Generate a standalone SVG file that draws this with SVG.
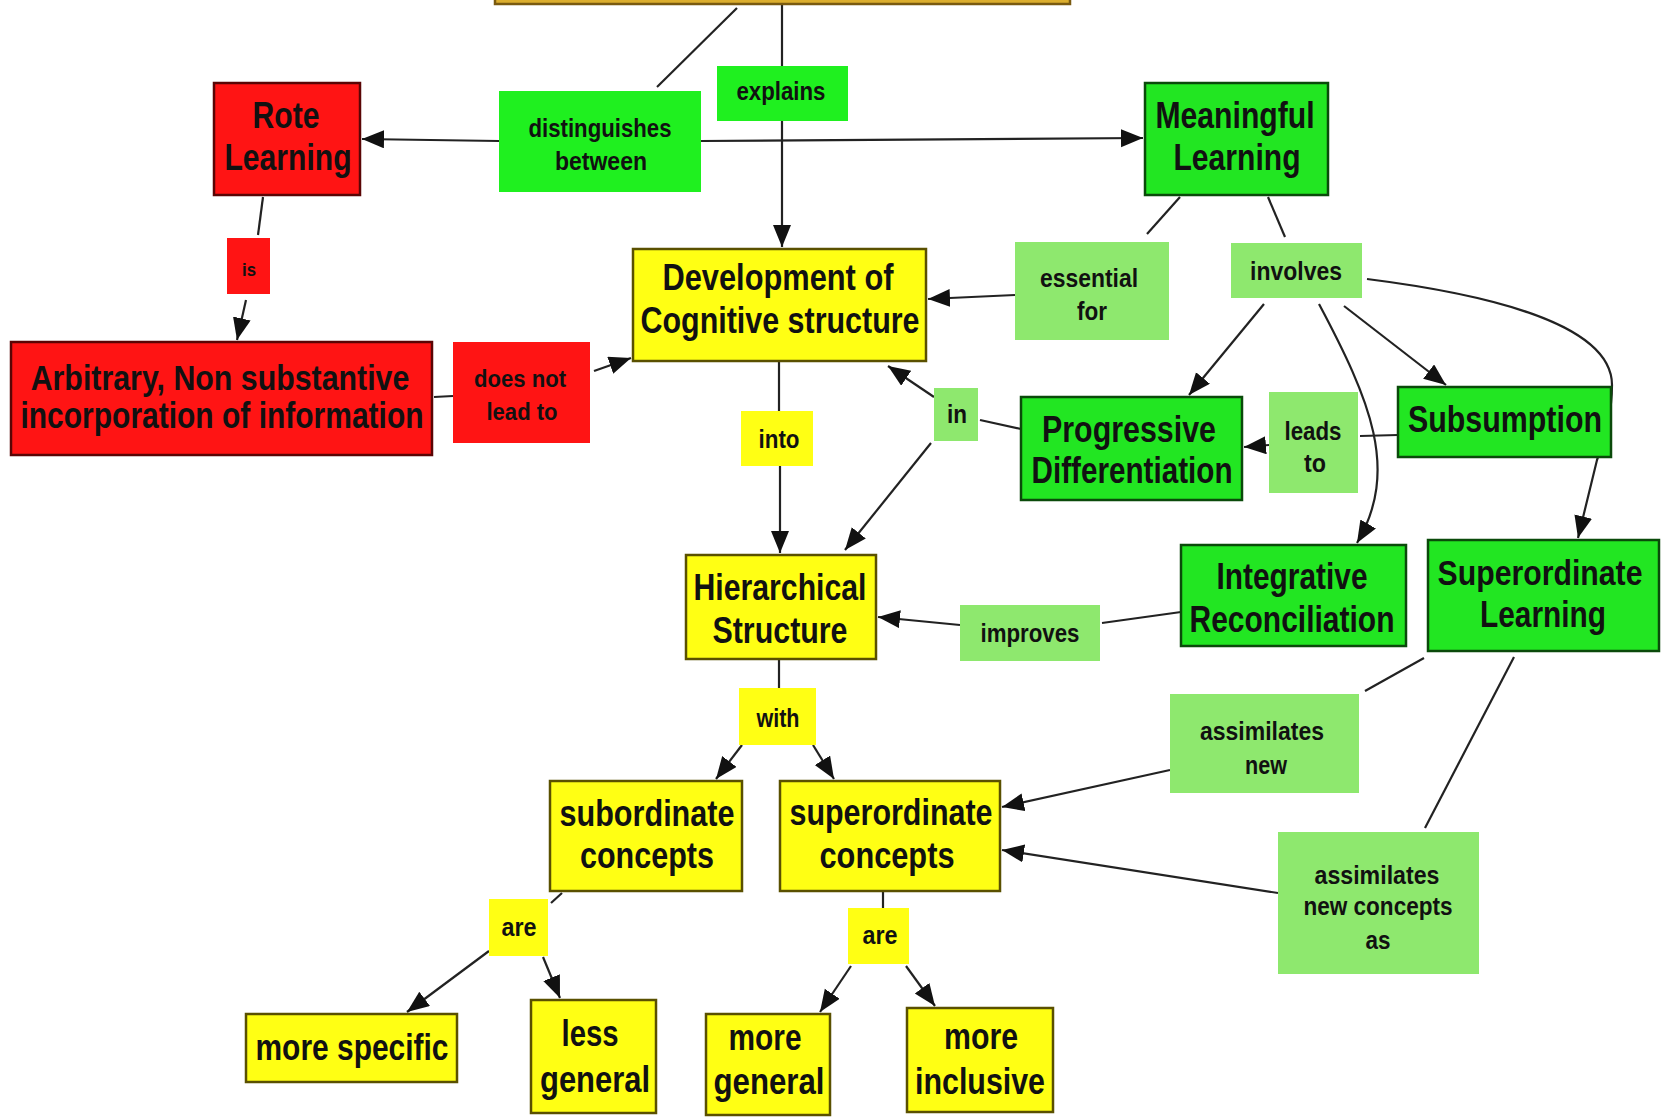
<svg xmlns="http://www.w3.org/2000/svg" width="1662" height="1117" viewBox="0 0 1662 1117">
<style>
.bg{fill:#ffffff}
.red{fill:#ff1414}
.redb{fill:#ff1414;stroke:#5a0505;stroke-width:2.5}
.grn{fill:#1ff01f}
.grnb{fill:#22e622;stroke:#0a4a0a;stroke-width:2.5}
.lg{fill:#8ee86e}
.yel{fill:#ffff14}
.yelb{fill:#ffff14;stroke:#5a5000;stroke-width:2.5}
.top{fill:#dcae2e;stroke:#7a5a10;stroke-width:2.5}
text{font-family:"Liberation Sans",Arial,sans-serif;font-weight:bold;fill:#111;text-anchor:middle}
.c{font-size:36px}
.l{font-size:25px}
.e{fill:none;stroke:#222;stroke-width:2.2}
.a{marker-end:url(#ah)}
</style>
<defs>
<marker id="ah" markerUnits="userSpaceOnUse" markerWidth="24" markerHeight="20" refX="22" refY="9" orient="auto" viewBox="0 0 24 20">
<path d="M0,0 L22,9 L0,18 z" fill="#111"/>
</marker>
</defs>
<rect class="bg" x="0" y="0" width="1662" height="1117"/>
<g id="connectors">
<path class="e" d="M737,8 L657,87"/>
<path class="e" d="M782,4 L782,66"/>
<path class="e a" d="M782,121 L782,247"/>
<path class="e a" d="M499,141 L362,139"/>
<path class="e a" d="M701,141 L1143,138"/>
<path class="e" d="M263,197 L258,235"/>
<path class="e a" d="M246,300 L237,340"/>
<path class="e" d="M434,397 L453,396"/>
<path class="e a" d="M594,371 L631,358"/>
<path class="e" d="M1180,197 L1147,234"/>
<path class="e a" d="M1015,295 L928,299"/>
<path class="e" d="M1268,197 L1285,237"/>
<path class="e a" d="M1264,304 L1189,395"/>
<path class="e a" d="M1344,306 L1446,385"/>
<path class="e a" d="M1319,304 C1370,400 1400,470 1357,543"/>
<path class="e a" d="M1367,279 C1470,292 1612,320 1612,385 Q1612,420 1597,460 L1578,538"/>
<path class="e" d="M1021,429 L980,420"/>
<path class="e a" d="M934,397 L888,366"/>
<path class="e a" d="M931,443 L845,550"/>
<path class="e" d="M779,361 L779,411"/>
<path class="e a" d="M780,466 L780,553"/>
<path class="e" d="M1398,435 L1360,436"/>
<path class="e a" d="M1269,445 L1244,447"/>
<path class="e" d="M1181,612 L1102,623"/>
<path class="e a" d="M960,625 L878,617"/>
<path class="e" d="M1424,658 L1365,691"/>
<path class="e a" d="M1170,770 L1002,807"/>
<path class="e" d="M1514,657 L1425,828"/>
<path class="e a" d="M1278,893 L1002,850"/>
<path class="e" d="M779,659 L779,688"/>
<path class="e a" d="M742,745 L716,779"/>
<path class="e a" d="M813,745 L834,779"/>
<path class="e" d="M562,893 L551,903"/>
<path class="e a" d="M489,951 L407,1012"/>
<path class="e a" d="M543,957 L560,998"/>
<path class="e" d="M883,891 L883,908"/>
<path class="e a" d="M851,966 L820,1012"/>
<path class="e a" d="M906,966 L935,1006"/>
</g>
<g id="n-top"><rect class="top" x="495" y="-20" width="575" height="24"/></g>
<g id="n-rote"><rect class="redb" x="214" y="83" width="146" height="112"/>
<text class="c" x="286" y="128" textLength="67" lengthAdjust="spacingAndGlyphs">Rote</text>
<text class="c" x="288" y="170" textLength="127" lengthAdjust="spacingAndGlyphs">Learning</text></g>
<g id="n-distinguishes"><rect class="grn" x="499" y="91" width="202" height="101"/>
<text class="l" x="600" y="137" textLength="143" lengthAdjust="spacingAndGlyphs">distinguishes</text>
<text class="l" x="601" y="170" textLength="92" lengthAdjust="spacingAndGlyphs">between</text></g>
<g id="n-explains"><rect class="grn" x="717" y="66" width="131" height="55"/>
<text class="l" x="781" y="100" textLength="89" lengthAdjust="spacingAndGlyphs">explains</text></g>
<g id="n-meaningful"><rect class="grnb" x="1145" y="83" width="183" height="112"/>
<text class="c" x="1235" y="128" textLength="159" lengthAdjust="spacingAndGlyphs">Meaningful</text>
<text class="c" x="1237" y="170" textLength="127" lengthAdjust="spacingAndGlyphs">Learning</text></g>
<g id="n-development"><rect class="yelb" x="633" y="249" width="293" height="112"/>
<text class="c" x="778" y="290" textLength="231" lengthAdjust="spacingAndGlyphs">Development of</text>
<text class="c" x="780" y="333" textLength="279" lengthAdjust="spacingAndGlyphs">Cognitive structure</text></g>
<g id="n-essential"><rect class="lg" x="1015" y="242" width="154" height="98"/>
<text class="l" x="1089" y="287" textLength="98" lengthAdjust="spacingAndGlyphs">essential</text>
<text class="l" x="1092" y="320" textLength="30" lengthAdjust="spacingAndGlyphs">for</text></g>
<g id="n-involves"><rect class="lg" x="1231" y="243" width="131" height="55"/>
<text class="l" x="1296" y="280" textLength="92" lengthAdjust="spacingAndGlyphs">involves</text></g>
<g id="n-is"><rect class="red" x="227" y="238" width="43" height="56"/>
<text class="l" x="249" y="276" style="font-size:18px" textLength="14" lengthAdjust="spacingAndGlyphs">is</text></g>
<g id="n-arbitrary"><rect class="redb" x="11" y="342" width="421" height="113"/>
<text class="c" transform="translate(220,390) scale(0.843,1)" x="0" y="0">Arbitrary, Non substantive</text>
<text class="c" transform="translate(222,428) scale(0.833,1)" x="0" y="0">incorporation of information</text></g>
<g id="n-doesnot"><rect class="red" x="453" y="342" width="137" height="101"/>
<text class="l" x="520" y="387" style="font-size:23px" textLength="92" lengthAdjust="spacingAndGlyphs">does not</text>
<text class="l" x="522" y="420" style="font-size:23px" textLength="71" lengthAdjust="spacingAndGlyphs">lead to</text></g>
<g id="n-into"><rect class="yel" x="741" y="411" width="72" height="55"/>
<text class="l" x="779" y="448" textLength="41" lengthAdjust="spacingAndGlyphs">into</text></g>
<g id="n-in"><rect class="lg" x="934" y="388" width="44" height="53"/>
<text class="l" x="957" y="423" textLength="20" lengthAdjust="spacingAndGlyphs">in</text></g>
<g id="n-progressive"><rect class="grnb" x="1021" y="397" width="221" height="103"/>
<text class="c" x="1129" y="442" textLength="174" lengthAdjust="spacingAndGlyphs">Progressive</text>
<text class="c" x="1132" y="483" textLength="201" lengthAdjust="spacingAndGlyphs">Differentiation</text></g>
<g id="n-leadsto"><rect class="lg" x="1269" y="392" width="89" height="101"/>
<text class="l" x="1313" y="440" textLength="57" lengthAdjust="spacingAndGlyphs">leads</text>
<text class="l" x="1315" y="472" textLength="22" lengthAdjust="spacingAndGlyphs">to</text></g>
<g id="n-subsumption"><rect class="grnb" x="1398" y="387" width="213" height="70"/>
<text class="c" x="1505" y="432" textLength="194" lengthAdjust="spacingAndGlyphs">Subsumption</text></g>
<g id="n-hierarchical"><rect class="yelb" x="686" y="555" width="190" height="104"/>
<text class="c" x="780" y="600" textLength="173" lengthAdjust="spacingAndGlyphs">Hierarchical</text>
<text class="c" x="780" y="643" textLength="135" lengthAdjust="spacingAndGlyphs">Structure</text></g>
<g id="n-improves"><rect class="lg" x="960" y="605" width="140" height="56"/>
<text class="l" x="1030" y="642" textLength="99" lengthAdjust="spacingAndGlyphs">improves</text></g>
<g id="n-integrative"><rect class="grnb" x="1181" y="545" width="225" height="101"/>
<text class="c" x="1292" y="589" textLength="151" lengthAdjust="spacingAndGlyphs">Integrative</text>
<text class="c" x="1292" y="632" textLength="205" lengthAdjust="spacingAndGlyphs">Reconciliation</text></g>
<g id="n-superordinate-learning"><rect class="grnb" x="1428" y="540" width="231" height="111"/>
<text class="c" transform="translate(1540,585) scale(0.84,1)" x="0" y="0">Superordinate</text>
<text class="c" x="1543" y="627" textLength="126" lengthAdjust="spacingAndGlyphs">Learning</text></g>
<g id="n-with"><rect class="yel" x="739" y="688" width="77" height="57"/>
<text class="l" x="778" y="727" textLength="43" lengthAdjust="spacingAndGlyphs">with</text></g>
<g id="n-assimilates-new"><rect class="lg" x="1170" y="694" width="189" height="99"/>
<text class="l" x="1262" y="740" textLength="124" lengthAdjust="spacingAndGlyphs">assimilates</text>
<text class="l" x="1266" y="774" textLength="42" lengthAdjust="spacingAndGlyphs">new</text></g>
<g id="n-subordinate"><rect class="yelb" x="550" y="781" width="192" height="110"/>
<text class="c" x="647" y="826" textLength="175" lengthAdjust="spacingAndGlyphs">subordinate</text>
<text class="c" x="647" y="868" textLength="134" lengthAdjust="spacingAndGlyphs">concepts</text></g>
<g id="n-superordinate-concepts"><rect class="yelb" x="780" y="781" width="220" height="110"/>
<text class="c" x="891" y="825" textLength="203" lengthAdjust="spacingAndGlyphs">superordinate</text>
<text class="c" x="887" y="868" textLength="135" lengthAdjust="spacingAndGlyphs">concepts</text></g>
<g id="n-assimilates-as"><rect class="lg" x="1278" y="832" width="201" height="142"/>
<text class="l" x="1377" y="884" textLength="125" lengthAdjust="spacingAndGlyphs">assimilates</text>
<text class="l" x="1378" y="915" textLength="149" lengthAdjust="spacingAndGlyphs">new concepts</text>
<text class="l" x="1378" y="949" textLength="25" lengthAdjust="spacingAndGlyphs">as</text></g>
<g id="n-are-left"><rect class="yel" x="489" y="899" width="59" height="57"/>
<text class="l" x="519" y="936" textLength="35" lengthAdjust="spacingAndGlyphs">are</text></g>
<g id="n-are-right"><rect class="yel" x="848" y="908" width="61" height="56"/>
<text class="l" x="880" y="944" textLength="35" lengthAdjust="spacingAndGlyphs">are</text></g>
<g id="n-more-specific"><rect class="yelb" x="246" y="1014" width="211" height="68"/>
<text class="c" x="352" y="1060" textLength="193" lengthAdjust="spacingAndGlyphs">more specific</text></g>
<g id="n-less-general"><rect class="yelb" x="531" y="1000" width="125" height="113"/>
<text class="c" x="590" y="1046" textLength="57" lengthAdjust="spacingAndGlyphs">less</text>
<text class="c" x="595" y="1092" textLength="110" lengthAdjust="spacingAndGlyphs">general</text></g>
<g id="n-more-general"><rect class="yelb" x="706" y="1014" width="124" height="101"/>
<text class="c" x="765" y="1050" textLength="73" lengthAdjust="spacingAndGlyphs">more</text>
<text class="c" x="769" y="1094" textLength="111" lengthAdjust="spacingAndGlyphs">general</text></g>
<g id="n-more-inclusive"><rect class="yelb" x="907" y="1008" width="146" height="104"/>
<text class="c" x="981" y="1049" textLength="74" lengthAdjust="spacingAndGlyphs">more</text>
<text class="c" x="980" y="1094" textLength="130" lengthAdjust="spacingAndGlyphs">inclusive</text></g>
</svg>
